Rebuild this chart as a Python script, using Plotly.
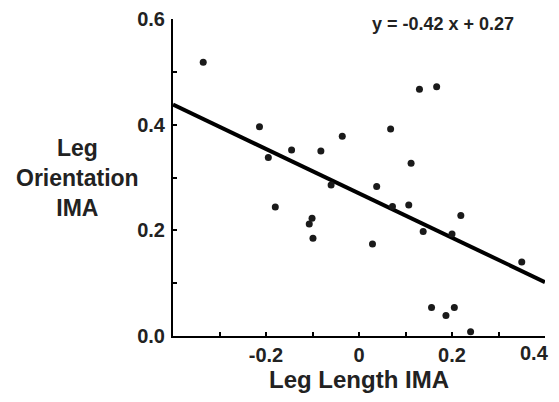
import plotly.graph_objects as go

leg_length = [-0.335, -0.214, -0.195, -0.145, -0.082, -0.036, -0.060, 0.038, 0.068, 0.112,
              0.130, 0.167, -0.180, -0.107, -0.101, -0.099, 0.029, 0.072, 0.107, 0.138,
              0.200, 0.219, 0.350, 0.156, 0.187, 0.205, 0.240]
leg_orient = [0.518, 0.396, 0.338, 0.352, 0.350, 0.378, 0.286, 0.283, 0.392, 0.327,
              0.467, 0.472, 0.244, 0.212, 0.223, 0.185, 0.174, 0.245, 0.248, 0.198,
              0.193, 0.228, 0.140, 0.054, 0.039, 0.054, 0.008]
slope = -0.42
intercept = 0.27
fit_x = [-0.4, 0.4]
fit_y = [slope * v + intercept for v in fit_x]

x_tickvals = [-0.2, 0, 0.2, 0.4]
x_ticktext = ["-0.2", "0", "0.2", ""]
x_last_label = "0.4"
y_tickvals = [0.0, 0.2, 0.4, 0.6]
y_ticktext = ["0.0", "0.2", "0.4", "0.6"]

FONT = "Liberation Sans, Arial, sans-serif"
TXT = "#222222"
TICKSIZE = 20

fig = go.Figure()
fig.add_trace(go.Scatter(x=fit_x, y=fit_y, mode="lines",
                         line=dict(color="black", width=4), showlegend=False, cliponaxis=False))
fig.add_trace(go.Scatter(x=leg_length, y=leg_orient, mode="markers",
                         marker=dict(color="#1a1a1a", size=7, symbol="circle"),
                         showlegend=False))

axis_common = dict(showline=True, linecolor="black", linewidth=2, ticks="inside",
                   ticklen=4, tickwidth=1.5, tickcolor="black", showgrid=False,
                   zeroline=False, automargin=False,
                   tickfont=dict(family=FONT, size=TICKSIZE, color=TXT, weight="bold"))
minor = dict(dtick=0.1, tick0=0, ticks="inside", ticklen=4, tickcolor="black", tickwidth=1.5)
fig.update_xaxes(range=[-0.4, 0.4], tickvals=x_tickvals, ticktext=x_ticktext, minor=minor,
                 title=dict(text="Leg Length IMA",
                            font=dict(family=FONT, size=24, color=TXT, weight="bold"), standoff=6),
                 **axis_common)
fig.update_yaxes(range=[0, 0.6], tickvals=y_tickvals, ticktext=y_ticktext, minor=minor,
                 ticklabelstandoff=2, **axis_common)

fig.add_annotation(text=x_last_label, xref="x", yref="paper", x=0.4, y=0,
                   xanchor="right", yanchor="top", xshift=6, yshift=-4, showarrow=False,
                   font=dict(family=FONT, size=TICKSIZE, color=TXT, weight="bold"))
fig.add_annotation(text="Leg<br>Orientation<br>IMA", xref="paper", yref="paper",
                   x=-0.258, y=0.5, xanchor="center", yanchor="middle", showarrow=False,
                   font=dict(family=FONT, size=23, color=TXT, weight="bold"), align="center")
fig.add_annotation(text="y = -0.42 x + 0.27", xref="x", yref="y",
                   x=0.181, y=0.59, xanchor="center", yanchor="middle", showarrow=False,
                   font=dict(family=FONT, size=18, color=TXT, weight="bold"))

# page body adds an 8px margin; size the figure so the plot area lands where the reference has it
fig.update_layout(width=551, height=394, margin=dict(l=165, r=14, t=11, b=66),
                  plot_bgcolor="white", paper_bgcolor="white")
fig.write_html("out.html")
